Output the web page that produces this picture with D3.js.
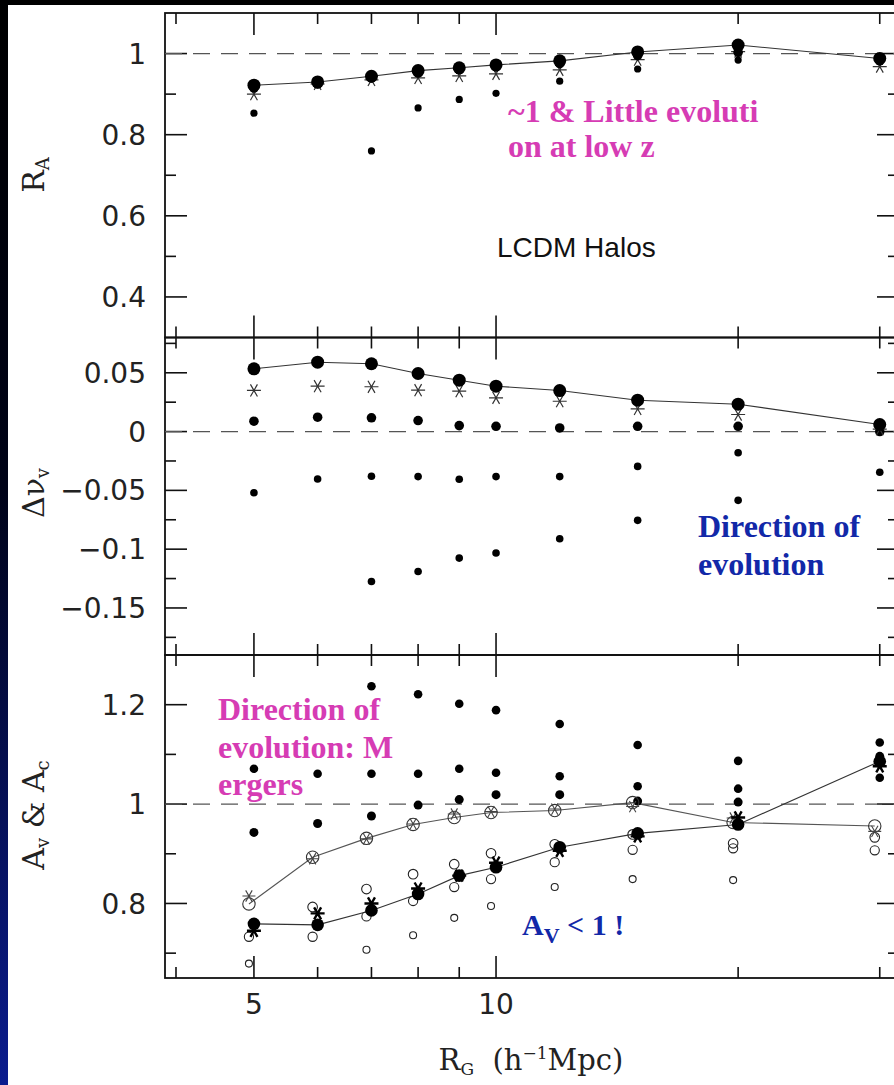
<!DOCTYPE html>
<html><head><meta charset="utf-8">
<script src="https://cdn.jsdelivr.net/npm/d3@7"></script>
<style>html,body{margin:0;padding:0;background:#000;} svg{display:block}</style>
</head><body>
<svg id="c" width="894" height="1085"></svg>
<script>
// ---------- DATA ----------
const rg = [5, 6, 7, 8, 9, 10, 12, 15, 20, 30];

// Panel 1: R_A
const raLine  = [0.922, 0.930, 0.944, 0.958, 0.965, 0.972, 0.982, 1.004, 1.021, 0.988];
const raMid   = [0.915, 0.925, 0.940, 0.952, 0.960, 0.967, 0.975, 0.995, 1.003, 0.982];
const raStar  = [0.900, 0.925, 0.935, 0.940, 0.945, 0.950, 0.960, 0.985, 1.005, 0.968];
const raSmall = [0.853, null, 0.760, 0.866, 0.887, 0.902, 0.932, 0.962, 0.984, null];

// Panel 2: Delta nu_v
const dvLine   = [0.0534, 0.0590, 0.0577, 0.0494, 0.0437, 0.0386, 0.0349, 0.0267, 0.0233, 0.0060];
const dvStar   = [0.0350, 0.0386, 0.0381, 0.0352, 0.0344, 0.0287, 0.0258, 0.0193, 0.0145, 0.0020];
const dvMed    = [0.0088, 0.0122, 0.0117, 0.0094, 0.0051, 0.0045, 0.0031, 0.0045, 0.0045, 0.0000];
const dvSmall1 = [-0.052, -0.0403, -0.038, -0.0383, -0.0406, -0.0383, -0.0383, -0.0296, -0.018, -0.0346];
const dvSmall2 = [null, null, -0.1275, -0.119, -0.1076, -0.1033, -0.0911, -0.0755, -0.0585, null];

// Panel 3: A_v & A_c
const acLine  = [0.799, 0.893, 0.931, 0.959, 0.973, 0.983, 0.987, 1.003, 0.963, 0.956];
const acStar  = [0.815, 0.890, 0.930, 0.960, 0.980, 0.985, 0.990, 0.995, 0.972, 0.945];
const avLine  = [0.759, 0.757, 0.786, 0.819, 0.856, 0.873, 0.913, 0.941, 0.959, 1.086];
const avStar  = [0.745, 0.780, 0.800, 0.830, 0.856, 0.882, 0.906, 0.935, 0.973, 1.076];
const ocMid1  = [null, 0.793, 0.829, 0.859, 0.879, 0.901, 0.919, 0.939, 0.921, 0.933];
const ocMid2  = [0.733, 0.733, 0.774, 0.805, 0.833, 0.849, 0.883, 0.908, 0.911, 0.907];
const ocSmall = [0.679, null, 0.707, 0.736, 0.771, 0.795, 0.833, 0.849, 0.847, null];
const fd1     = [null, null, 1.237, 1.221, 1.202, 1.189, 1.161, 1.119, 1.087, 1.124];
const fd2     = [1.071, 1.061, 1.061, 1.061, 1.071, 1.063, 1.056, 1.036, 1.031, 1.053];
const fd3     = [0.943, 0.961, 0.976, 0.998, 1.009, 1.019, 1.019, 1.006, 1.004, 1.096];

// Axes ticks
const xMajor = [5, 10];
const xMinor = [4, 6, 7, 8, 9, 20, 30];
const xTickLabels = ["5", "10"];
const y1Major = [0.4, 0.6, 0.8, 1.0], y1Minor = [0.5, 0.7, 0.9];
const y1Labels = ["0.4", "0.6", "0.8", "1"];
const y2Major = [-0.15, -0.1, -0.05, 0, 0.05], y2Minor = [-0.175, -0.125, -0.075, -0.025, 0.025, 0.075];
const y2Labels = ["\u22120.15", "\u22120.1", "\u22120.05", "0", "0.05"];
const y3Major = [0.8, 1.0, 1.2], y3Minor = [0.7, 0.9, 1.1];
const y3Labels = ["0.8", "1", "1.2"];

// ---------- DRAW ----------
const svg = d3.select("#c");
const defs = svg.append("defs");
const grad = defs.append("linearGradient").attr("id", "bg").attr("x1", 0).attr("y1", 0).attr("x2", 0).attr("y2", 1);
grad.append("stop").attr("offset", "0%").attr("stop-color", "#000");
grad.append("stop").attr("offset", "45%").attr("stop-color", "#000318");
grad.append("stop").attr("offset", "100%").attr("stop-color", "#0b1c8e");
svg.append("rect").attr("width", 894).attr("height", 1085).attr("fill", "url(#bg)");
svg.append("rect").attr("x", 8).attr("y", 5).attr("width", 886).attr("height", 1080).attr("fill", "#fff");

const X0 = 165, X1 = 899;
const x = d3.scaleLog().domain([3.876, 31.7]).range([X0, X1]);

const panels = [
  {top: 13, bot: 337.5, dom: [0.3, 1.1], major: y1Major, minor: y1Minor, labels: y1Labels, ref: 1},
  {top: 337.5, bot: 655, dom: [-0.19, 0.08], major: y2Major, minor: y2Minor, labels: y2Labels, ref: 0},
  {top: 655, bot: 978, dom: [0.65, 1.3], major: y3Major, minor: y3Minor, labels: y3Labels, ref: 1}
];
panels.forEach(p => { p.y = d3.scaleLinear().domain(p.dom).range([p.bot, p.top]); });

const MAJ = 22, MIN = 11;
const axes = svg.append("g").attr("stroke", "#111").attr("fill", "none");
const tickFont = "'DejaVu Sans ExtraLight','DejaVu Sans',sans-serif";

panels.forEach(p => {
  svg.append("line").attr("x1", X0).attr("x2", X1).attr("y1", p.y(p.ref)).attr("y2", p.y(p.ref))
    .attr("stroke", "#555").attr("stroke-width", 1.2).attr("stroke-dasharray", "17,11");
  axes.append("rect").attr("x", X0).attr("y", p.top).attr("width", X1 - X0).attr("height", p.bot - p.top)
    .attr("stroke-width", 1.8);
  const yt = p.major.map(v => ({v, l: MAJ})).concat(p.minor.map(v => ({v, l: MIN})));
  yt.forEach(t => {
    const yy = p.y(t.v);
    axes.append("line").attr("x1", X0).attr("x2", X0 + t.l).attr("y1", yy).attr("y2", yy).attr("stroke-width", 1.6);
    axes.append("line").attr("x1", X1 - t.l).attr("x2", X1).attr("y1", yy).attr("y2", yy).attr("stroke-width", 1.6);
  });
  const xt = xMajor.map(v => ({v, l: MAJ})).concat(xMinor.map(v => ({v, l: MIN})));
  xt.forEach(t => {
    const xx = x(t.v);
    axes.append("line").attr("x1", xx).attr("x2", xx).attr("y1", p.top).attr("y2", p.top + t.l).attr("stroke-width", 1.6);
    axes.append("line").attr("x1", xx).attr("x2", xx).attr("y1", p.bot - t.l).attr("y2", p.bot).attr("stroke-width", 1.6);
  });
  svg.append("g").selectAll("text").data(p.major).join("text")
    .attr("x", 146).attr("y", v => p.y(v)).attr("dy", "0.36em")
    .attr("text-anchor", "end").attr("font-family", tickFont).attr("font-size", 28).attr("fill", "#222")
    .text((v, i) => p.labels[i]);
});

svg.append("g").selectAll("text").data(xMajor).join("text")
  .attr("x", v => x(v)).attr("y", 1014).attr("text-anchor", "middle")
  .attr("font-family", tickFont).attr("font-size", 28).attr("fill", "#222")
  .text((v, i) => xTickLabels[i]);

// ---------- markers ----------
function pts(vals) { return rg.map((r, i) => ({x: r, v: vals[i]})).filter(d => d.v !== null); }
function ast(r) {
  let s = "";
  [0, 60, 120].forEach(a => {
    const c = Math.cos(a * Math.PI / 180) * r, n = Math.sin(a * Math.PI / 180) * r;
    s += `M${(-c).toFixed(2)},${(-n).toFixed(2)}L${c.toFixed(2)},${n.toFixed(2)}`;
  });
  return s;
}
function line(p, vals, stroke, dx) {
  svg.append("path").datum(pts(vals))
    .attr("d", d3.line().x(d => x(d.x) + (dx || 0)).y(d => p.y(d.v)))
    .attr("fill", "none").attr("stroke", stroke).attr("stroke-width", 1.1);
}
function circles(p, vals, r, fill, stroke, sw, dx) {
  svg.append("g").selectAll("circle").data(pts(vals)).join("circle")
    .attr("cx", d => x(d.x) + (dx || 0)).attr("cy", d => p.y(d.v)).attr("r", r)
    .attr("fill", fill).attr("stroke", stroke || "none").attr("stroke-width", sw || 0);
}
function stars(p, vals, r, stroke, sw, dx) {
  svg.append("g").selectAll("path").data(pts(vals)).join("path")
    .attr("transform", d => `translate(${x(d.x) + (dx || 0)},${p.y(d.v)})`)
    .attr("d", ast(r)).attr("fill", "none").attr("stroke", stroke).attr("stroke-width", sw);
}

const [P1, P2, P3] = panels;
line(P1, raLine, "#333");
circles(P1, raSmall, 3.6, "#000");
stars(P1, raStar, 7, "#333", 1.2);
circles(P1, raMid, 4.8, "#000");
circles(P1, raLine, 6.5, "#000");

line(P2, dvLine, "#333");
circles(P2, dvSmall2, 3.8, "#000");
circles(P2, dvSmall1, 3.8, "#000");
circles(P2, dvMed, 4.8, "#000");
stars(P2, dvStar, 7, "#333", 1.2);
circles(P2, dvLine, 6.5, "#000");

const OFF = -5;
line(P3, acLine, "#555", OFF);
line(P3, avLine, "#333");
circles(P3, fd1, 4.3, "#000");
circles(P3, fd2, 4.3, "#000");
circles(P3, fd3, 4.5, "#000");
circles(P3, ocSmall, 3.5, "none", "#222", 1.1, OFF);
circles(P3, ocMid2, 4.6, "none", "#222", 1.1, OFF);
circles(P3, ocMid1, 4.8, "none", "#222", 1.1, OFF);
circles(P3, acLine, 6.2, "none", "#333", 1.1, OFF);
stars(P3, acStar, 6.5, "#444", 1.1, OFF);
circles(P3, avLine, 6.3, "#000");
stars(P3, avStar, 7, "#000", 2.4);

// ---------- axis labels ----------
const serif = "'DejaVu Serif',serif";
function ylab(cx, cy, parts) {
  const t = svg.append("text").attr("transform", `translate(${cx},${cy}) rotate(-90)`)
    .attr("text-anchor", "middle").attr("font-family", serif).attr("font-size", 30).attr("fill", "#222");
  parts.forEach(pt => {
    const s = t.append("tspan").text(pt.t);
    if (pt.fs) s.attr("font-size", pt.fs);
    if (pt.dy) s.attr("dy", pt.dy);
  });
}
ylab(44, 175, [{t: "R"}, {t: "A", fs: 18, dy: 5}]);
ylab(44, 493, [{t: "\u0394\u03bd"}, {t: "v", fs: 18, dy: 5}]);
ylab(44, 815, [{t: "A"}, {t: "v", fs: 18, dy: 5}, {t: " & A", dy: -5}, {t: "c", fs: 18, dy: 5}]);

const xt = svg.append("text").attr("x", 531).attr("y", 1070).attr("text-anchor", "middle")
  .attr("font-family", serif).attr("font-size", 29).attr("fill", "#222");
xt.append("tspan").text("R");
xt.append("tspan").text("G").attr("font-size", 17).attr("dy", 5);
xt.append("tspan").text("\u00a0 (h").attr("dy", -5);
xt.append("tspan").text("\u22121").attr("font-size", 17).attr("dy", -11);
xt.append("tspan").text("Mpc)").attr("dy", 11);

// ---------- annotations ----------
const ann = "'Liberation Serif','Times New Roman',serif";
const MAG = "#d63cb4", BLUE = "#1228a8";
function block(x0, ys, lines, color, fs) {
  lines.forEach((l, i) => svg.append("text").attr("x", x0).attr("y", ys[i]).attr("font-family", ann)
    .attr("font-weight", "bold").attr("font-size", fs).attr("fill", color).text(l));
}
block(508, [122, 157], ["~1 & Little evoluti", "on at low z"], MAG, 32);
block(698, [537, 575], ["Direction of", "evolution"], BLUE, 32);
block(218, [720, 758, 795], ["Direction of", "evolution: M", "ergers"], MAG, 32);

svg.append("text").attr("x", 497).attr("y", 257).attr("font-family", "'Liberation Sans',Arial,sans-serif")
  .attr("font-size", 28).attr("fill", "#111").text("LCDM Halos");

const av = svg.append("text").attr("x", 522).attr("y", 935).attr("font-family", ann)
  .attr("font-weight", "bold").attr("font-size", 30).attr("fill", BLUE);
av.append("tspan").text("A");
av.append("tspan").text("V").attr("font-size", 22).attr("dy", 8);
av.append("tspan").text(" < 1 !").attr("dy", -8);
</script>
</body></html>
